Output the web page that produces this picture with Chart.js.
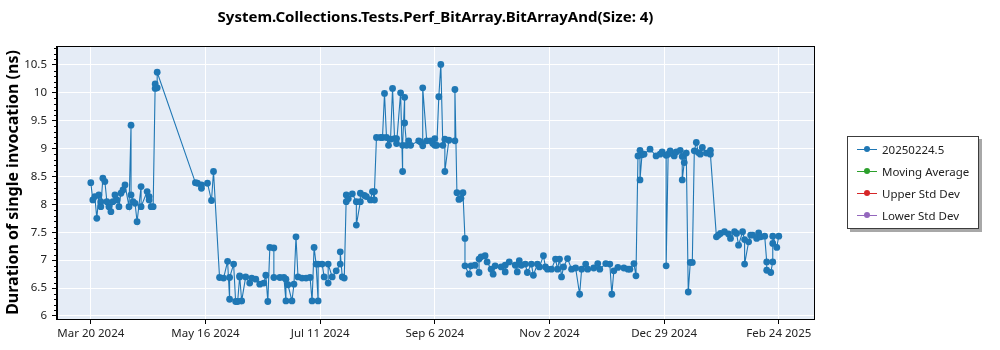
<!DOCTYPE html>
<html>
<head>
<meta charset="utf-8">
<script src="https://cdn.jsdelivr.net/npm/chart.js@4.4.1/dist/chart.umd.min.js"></script>
<style>
  html, body { margin: 0; padding: 0; background: #fff; }
  #wrap { position: relative; width: 1000px; height: 350px; }
  #legend {
    position: absolute; left: 847px; top: 136px; width: 132px; height: 93px;
    box-sizing: border-box; border: 1px solid #3c3c3c; background: #fff;
    box-shadow: 3px 3px 0 #a8a8a8; padding-top: 1px;
    font: 11.5px "Noto Sans", sans-serif; color: #222;
  }
  .item { height: 22px; display: flex; align-items: center; white-space: nowrap; }
  .mk { position: relative; width: 20px; height: 8px; margin-left: 9px; margin-right: 5px; }
  .mk .ln { position: absolute; left: 0; right: 0; top: 3.5px; height: 1px; }
  .mk .dt { position: absolute; left: 7px; top: 1px; width: 6px; height: 6px; border-radius: 50%; }
</style>
</head>
<body>
<div id="wrap">
  <canvas id="c" width="1000" height="350"></canvas>
  <div id="legend"></div>
</div>
<script>
// Benchmark run history: x = days after 2024-03-20, y = duration in ns
const chartTitle = 'System.Collections.Tests.Perf_BitArray.BitArrayAnd(Size: 4)';
const yAxisTitle = 'Duration of single invocation (ns)';
const seriesNames = ['20250224.5', 'Moving Average', 'Upper Std Dev', 'Lower Std Dev'];
const seriesColors = ['#1f77b4', '#2ca02c', '#d62728', '#9467bd'];

const runDays = [
  0, 1, 2, 3, 4, 5, 5, 6, 7, 8, 9, 10, 11, 12, 13, 14, 15, 16, 17, 19, 20, 20, 21, 22, 23, 25, 25, 28, 29, 29, 30, 31, 32, 32, 33, 33,
  52, 53, 55, 55, 58, 60, 61,
  64, 66, 68, 69, 69, 71, 72, 73, 74, 74, 75, 77, 79, 80, 82, 84, 86, 87, 88, 89, 91, 91, 94, 96, 97,
  97, 98, 100, 101, 102, 103, 105, 107, 109, 110, 111, 112, 113, 113, 115, 116, 118, 118, 120, 122, 124, 124, 125, 126,
  127, 127, 128, 130, 132, 132, 134, 134, 136, 137, 139, 140, 141, 141,
  142, 144, 145, 146, 147, 148, 149, 150, 151, 152, 152, 154, 155, 155, 156, 156, 157, 158, 159, 163,
  164, 165, 165, 167, 169, 170, 171, 171, 172, 173, 174, 175, 176, 176, 178, 181, 181,
  182, 183, 184, 185, 186, 186,
  188, 189, 191, 193, 193, 194, 196, 197, 199, 200, 201, 204, 206, 206, 208, 211, 212, 213, 214, 216,
  217, 219, 220, 222, 223, 225, 226, 227, 229, 231, 232, 233, 234, 235, 237, 239, 241, 243, 244, 246,
  247, 250, 252, 253, 256, 258, 259, 260, 262, 265, 267, 268, 270, 271,
  272, 273, 273, 274, 275, 278, 281, 283, 284, 286, 286, 287, 288, 290, 291, 293, 294, 294, 295, 296,
  297, 298, 299, 300, 301, 302, 303, 304, 306, 308, 308,
  311, 312, 313, 315, 317, 318, 320, 321, 322, 324, 325, 325, 327, 328, 329, 331, 332, 333, 335, 336,
  336, 338, 339, 339, 339, 341, 342
];

const runDurations = [
  8.39, 8.08, 8.14, 7.75, 8.17, 8.05, 7.96, 8.47, 8.41, 8.05, 7.96, 7.87, 8.05, 8.17, 8.08, 7.96, 8.20, 8.26, 8.35, 7.96, 9.42, 8.17, 8.05, 8.02, 7.69, 8.32, 7.96, 8.23, 8.14, 8.08, 7.96, 7.96, 10.16, 10.08, 10.09, 10.37,
  8.39, 8.38, 8.29, 8.35, 8.38, 8.07, 8.59,
  6.69, 6.68, 6.98, 6.30, 6.69, 6.93, 6.26, 6.26, 6.70, 6.72, 6.27, 6.70, 6.59, 6.68, 6.66, 6.57, 6.59, 6.73, 6.26, 7.23, 7.22, 6.69, 6.69, 6.69, 6.27,
  6.66, 6.56, 6.27, 6.57, 7.42, 6.70, 6.68, 6.68, 6.69, 6.27, 7.23, 6.93, 6.27, 6.93, 6.93, 6.70, 6.59, 6.93, 6.70, 6.81, 6.93, 7.15, 6.70, 6.68,
  8.17, 8.05, 8.10, 8.19, 8.05, 7.63, 8.05, 8.20, 8.16, 8.14, 8.08, 8.23, 8.08, 8.23,
  9.20, 9.20, 9.20, 9.99, 9.20, 9.06, 9.17, 10.08, 9.18, 9.18, 9.09, 10.00, 8.59, 9.06, 9.92, 9.46, 9.06, 9.14, 9.06, 9.14,
  9.12, 9.05, 10.09, 9.14, 9.14, 9.09, 9.18, 9.06, 9.06, 9.93, 10.51, 9.06, 9.17, 8.59, 9.15, 9.14, 10.06,
  8.21, 8.09, 8.11, 8.21, 7.39, 6.90,
  6.75, 6.90, 6.91, 6.78, 7.02, 7.06, 7.08, 6.97, 6.84, 6.75, 6.90, 6.88, 6.79, 6.91, 6.97, 6.91, 6.79, 6.99, 6.91, 6.93,
  6.78, 6.93, 6.73, 6.93, 6.88, 7.08, 6.88, 6.84, 6.84, 7.02, 6.84, 7.02, 6.70, 6.88, 7.03, 6.84, 6.86, 6.39, 6.84, 6.93,
  6.84, 6.86, 6.94, 6.84, 6.94, 6.93, 6.39, 6.81, 6.87, 6.86, 6.84, 6.84, 6.94, 6.72,
  8.87, 8.97, 8.44, 8.89, 8.90, 8.99, 8.87, 8.90, 8.94, 8.88, 6.90, 8.90, 8.96, 8.87, 8.94, 8.97, 8.86, 8.44, 8.75, 8.92,
  6.43, 6.96, 6.96, 8.96, 9.11, 8.93, 8.90, 9.02, 8.92, 8.97, 8.90,
  7.42, 7.45, 7.48, 7.51, 7.47, 7.39, 7.51, 7.48, 7.27, 7.51, 7.37, 6.93, 7.33, 7.45, 7.45, 7.39, 7.49, 7.42, 7.43, 6.97,
  6.82, 6.78, 6.97, 7.30, 7.43, 7.23, 7.43
];

// Axis ticks
const xTickDays = [0, 57, 114, 171, 228, 285, 342];
const xTickLabels = ['Mar 20 2024', 'May 16 2024', 'Jul 11 2024', 'Sep 6 2024', 'Nov 2 2024', 'Dec 29 2024', 'Feb 24 2025'];
const yTickValues = [6, 6.5, 7, 7.5, 8, 8.5, 9, 9.5, 10, 10.5];
const xRange = [-16.8, 359.5];
const yRange = [5.946, 10.84];

const uiFont = '"Noto Sans", "DejaVu Sans", sans-serif';

const plotBackground = {
  id: 'plotBackground',
  beforeDraw(chart) {
    const { ctx, chartArea: a } = chart;
    ctx.save();
    ctx.fillStyle = '#e5ecf6';
    ctx.fillRect(a.left, a.top, a.right - a.left, a.bottom - a.top);
    ctx.restore();
  }
};

const plotFrame = {
  id: 'plotFrame',
  afterDraw(chart) {
    const { ctx, chartArea: a } = chart;
    const y = chart.scales.y;
    ctx.save();
    ctx.strokeStyle = '#000';
    ctx.lineWidth = 1;
    ctx.strokeRect(Math.round(a.left) - 0.5, Math.round(a.top) + 0.5, Math.round(a.right - a.left) + 1, Math.round(a.bottom - a.top));
    // minor ticks every 0.1 ns on the value axis
    ctx.beginPath();
    for (let i = Math.ceil(yRange[0] * 10); i <= Math.floor(yRange[1] * 10); i++) {
      if (i % 5 === 0) continue;
      const py = Math.round(y.getPixelForValue(i / 10)) + 0.5;
      ctx.moveTo(a.left - 3, py);
      ctx.lineTo(a.left, py);
    }
    ctx.stroke();
    ctx.restore();
  }
};

const points = runDays.map((d, i) => ({ x: d, y: runDurations[i] }));

const datasets = seriesNames.map((name, i) => ({
  label: name,
  data: i === 0 ? points : [],
  borderColor: seriesColors[i],
  backgroundColor: seriesColors[i],
  borderWidth: 1.1,
  pointRadius: 3.4,
  pointBorderWidth: 0,
  pointHoverRadius: 3.4,
  tension: 0
}));

const chart = new Chart(document.getElementById('c'), {
  type: 'line',
  data: { datasets },
  options: {
    responsive: false,
    animation: false,
    events: [],
    layout: { padding: { left: 0, right: 186, top: 0, bottom: 0 } },
    plugins: {
      legend: { display: false },
      tooltip: { enabled: false },
      title: {
        display: true,
        text: chartTitle,
        fullSize: false,
        color: '#000',
        font: { family: uiFont, size: 15, weight: 'bold', lineHeight: 1.2 },
        padding: { top: 9, bottom: 19 }
      }
    },
    scales: {
      x: {
        type: 'linear',
        min: xRange[0],
        max: xRange[1],
        afterBuildTicks(s) { s.ticks = xTickDays.map(v => ({ value: v })); },
        afterFit(s) { s.height = 31; },
        ticks: {
          autoSkip: false, maxRotation: 0, padding: 3, color: '#222',
          font: { family: uiFont, size: 11.5 },
          callback(v) { const i = xTickDays.indexOf(v); return i >= 0 ? xTickLabels[i] : ''; }
        },
        grid: { color: '#ffffff', lineWidth: 1, tickColor: '#000', tickLength: 5 },
        border: { display: true, color: '#000', width: 1 }
      },
      y: {
        type: 'linear',
        min: yRange[0],
        max: yRange[1],
        afterBuildTicks(s) { s.ticks = yTickValues.map(v => ({ value: v })); },
        afterFit(s) { s.width = 57; },
        ticks: {
          padding: 5, color: '#222',
          font: { family: uiFont, size: 11.5 },
          callback(v) { return String(v); }
        },
        grid: { color: '#ffffff', lineWidth: 1, tickColor: '#000', tickLength: 5 },
        border: { display: true, color: '#000', width: 1 },
        title: {
          display: true,
          text: yAxisTitle,
          color: '#000',
          font: { family: uiFont, size: 16, weight: 'bold', lineHeight: 1.2 },
          padding: { top: 4, bottom: 0 }
        }
      }
    }
  },
  plugins: [plotBackground, plotFrame]
});

// Legend listing every series of the chart
const legend = document.getElementById('legend');
chart.data.datasets.forEach(ds => {
  const row = document.createElement('div');
  row.className = 'item';
  const mk = document.createElement('span');
  mk.className = 'mk';
  const ln = document.createElement('span');
  ln.className = 'ln';
  ln.style.background = ds.borderColor;
  const dt = document.createElement('span');
  dt.className = 'dt';
  dt.style.background = ds.backgroundColor;
  mk.appendChild(ln);
  mk.appendChild(dt);
  const tx = document.createElement('span');
  tx.textContent = ds.label;
  row.appendChild(mk);
  row.appendChild(tx);
  legend.appendChild(row);
});
</script>
</body>
</html>
